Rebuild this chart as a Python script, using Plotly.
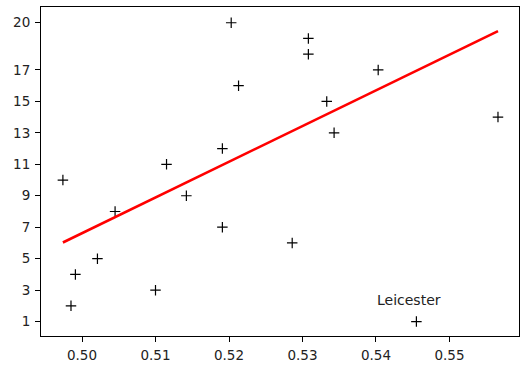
import plotly.graph_objects as go

# data
ratio = [0.5203, 0.5213, 0.5191, 0.5115, 0.4974, 0.5308, 0.5308, 0.5403, 0.5333, 0.5343,
         0.5566, 0.5045, 0.5142, 0.5191, 0.5021, 0.4991, 0.4985, 0.5100, 0.5286, 0.5455]
position = [20, 16, 12, 11, 10, 19, 18, 17, 15, 13,
            14, 8, 9, 7, 5, 4, 2, 3, 6, 1]
fit_x = [0.4974, 0.5566]
fit_y = [6.03, 19.47]
y_ticks = [1, 3, 5, 7, 9, 11, 13, 15, 17, 20]
x_ticks = [0.50, 0.51, 0.52, 0.53, 0.54, 0.55]
x_tick_text = ["0.50", "0.51", "0.52", "0.53", "0.54", "0.55"]
label_text = "Leicester"
label_pos = (0.54, 2)

fig = go.Figure()
fig.add_trace(go.Scatter(
    x=ratio, y=position, mode="markers",
    marker=dict(symbol="cross-thin", size=7.5, line=dict(color="black", width=1.2)),
    showlegend=False, hoverinfo="skip"))
fig.add_trace(go.Scatter(
    x=fit_x, y=fit_y, mode="lines",
    line=dict(color="red", width=2.6),
    showlegend=False, hoverinfo="skip"))

fig.add_annotation(x=label_pos[0], y=label_pos[1], text=label_text, showarrow=False,
                   xanchor="left", yanchor="bottom", yshift=-4, xshift=-1,
                   font=dict(family="DejaVu Sans", size=14, color="#222"))

axis_common = dict(showline=True, linecolor="black", linewidth=1, mirror=True,
                   ticks="outside", ticklen=5, tickwidth=1, tickcolor="black",
                   showgrid=False, zeroline=False,
                   tickfont=dict(family="DejaVu Sans", size=13.5, color="#222"))

fig.update_layout(
    width=520, height=365,
    margin=dict(l=41, r=1, t=7, b=29),
    paper_bgcolor="white", plot_bgcolor="white",
    xaxis=dict(range=[0.49442, 0.55946], tickvals=x_ticks, ticktext=x_tick_text,
               ticklabelstandoff=2, **axis_common),
    yaxis=dict(range=[0.084, 21.0], tickvals=y_ticks, ticklabelstandoff=2, **axis_common),
)

fig.write_html("out.html", config={"displayModeBar": False},
               post_script="document.body.style.margin='0px';document.body.style.padding='0px';")
